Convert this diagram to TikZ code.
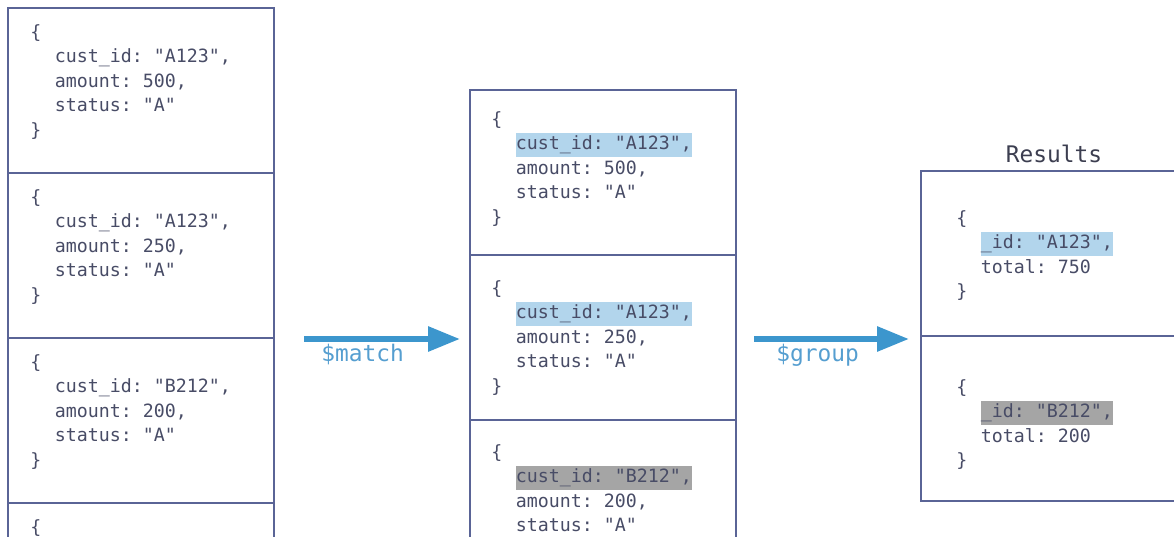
\documentclass[tikz,border=0pt]{standalone}
\usepackage{fontspec}
\setmonofont{DejaVu Sans Mono}
\usetikzlibrary{positioning, arrows.meta}
\usepackage{xcolor}
\definecolor{framecolor}{RGB}{90,100,150}
\definecolor{doccolor}{RGB}{72,76,102}
\definecolor{stagecolor}{RGB}{60,150,205}
\definecolor{stagetextcolor}{RGB}{85,158,208}
\definecolor{keyblue}{RGB}{178,213,236}
\definecolor{keygrey}{RGB}{165,165,165}
\definecolor{titlecolor}{RGB}{60,62,80}

\newcommand{\docindent}{\hspace*{0.49cm}}
\newcommand{\hlblue}[1]{{\setlength{\fboxsep}{0pt}\colorbox{keyblue}{\strut #1}}}
\newcommand{\hlgrey}[1]{{\setlength{\fboxsep}{0pt}\colorbox{keygrey}{\strut #1}}}

\begin{document}
\begin{tikzpicture}[x=0.02cm, y=-0.02cm]
  \tikzset{
    cell/.style={
      draw=framecolor,
      line width=1.1pt,
      minimum width=5.32cm,
      minimum height=3.3cm,
      inner sep=0pt,
      outer sep=0pt,
      anchor=north west
    },
    doc/.style={
      anchor=north west,
      align=left,
      inner sep=0pt,
      text=doccolor,
      font=\ttfamily\fontsize{10.4}{13.9}\selectfont
    },
    stage/.style={
      draw=stagecolor,
      line width=3.4pt,
      -{Triangle[length=0.64cm, width=0.48cm]}
    },
    stagelabel/.style={
      anchor=base west,
      inner sep=0pt,
      text=stagetextcolor,
      font=\ttfamily\fontsize{13}{15}\selectfont
    },
    title/.style={
      anchor=base,
      inner sep=0pt,
      text=titlecolor,
      font=\ttfamily\fontsize{13}{15}\selectfont
    }
  }
  \useasboundingbox (0,0) rectangle (1174,537);
  \clip (0,0) rectangle (1174,537);

  % Input documents
  \node[cell] (in1) at (8,8) {};
  \node[cell, below=0pt of in1] (in2) {};
  \node[cell, below=0pt of in2] (in3) {};
  \node[cell, below=0pt of in3] (in4) {};

  \node[doc] (indoc1) at ([shift={(22,13)}]in1.north west)
    {\strut\{\\ \docindent cust\_id: "A123",\\ \docindent amount: 500,\\ \docindent status: "A"\\ \}};
  \node[doc] (indoc2) at ([shift={(22,13)}]in2.north west)
    {\strut\{\\ \docindent cust\_id: "A123",\\ \docindent amount: 250,\\ \docindent status: "A"\\ \}};
  \node[doc] (indoc3) at ([shift={(22,13)}]in3.north west)
    {\strut\{\\ \docindent cust\_id: "B212",\\ \docindent amount: 200,\\ \docindent status: "A"\\ \}};
  \node[doc] (indoc4) at ([shift={(22,13)}]in4.north west) {\strut\{};

  % Matched documents
  \node[cell] (mt1) at (470,90) {};
  \node[cell, below=0pt of mt1] (mt2) {};
  \node[cell, below=0pt of mt2] (mt3) {};

  \node[doc] (mtdoc1) at ([shift={(21,18)}]mt1.north west)
    {\strut\{\\ \docindent\hlblue{cust\_id: "A123",}\\ \docindent amount: 500,\\ \docindent status: "A"\\ \}};
  \node[doc] (mtdoc2) at ([shift={(21,22)}]mt2.north west)
    {\strut\{\\ \docindent\hlblue{cust\_id: "A123",}\\ \docindent amount: 250,\\ \docindent status: "A"\\ \}};
  \node[doc] (mtdoc3) at ([shift={(21,21)}]mt3.north west)
    {\strut\{\\ \docindent\hlgrey{cust\_id: "B212",}\\ \docindent amount: 200,\\ \docindent status: "A"};

  % Grouped results
  \node[cell] (res1) at (921,171) {};
  \node[cell, below=0pt of res1] (res2) {};
  \node[title] (restitle) at ([shift={(0,-8)}]res1.north) {Results};

  \node[doc] (resdoc1) at ([shift={(35,36)}]res1.north west)
    {\strut\{\\ \docindent\hlblue{\_id: "A123",}\\ \docindent total: 750\\ \}};
  \node[doc] (resdoc2) at ([shift={(35,40)}]res2.north west)
    {\strut\{\\ \docindent\hlgrey{\_id: "B212",}\\ \docindent total: 200\\ \}};

  % Pipeline stages
  \coordinate (matchfrom) at (304,339);
  \coordinate (matchto) at (460,339);
  \draw[stage] (matchfrom) -- (matchto);
  \node[stagelabel] (matchlbl) at ([shift={(17,22)}]matchfrom) {\$match};

  \coordinate (groupfrom) at (754,339);
  \coordinate (groupto) at (909,339);
  \draw[stage] (groupfrom) -- (groupto);
  \node[stagelabel] (grouplbl) at ([shift={(22,22)}]groupfrom) {\$group};
\end{tikzpicture}
\end{document}
